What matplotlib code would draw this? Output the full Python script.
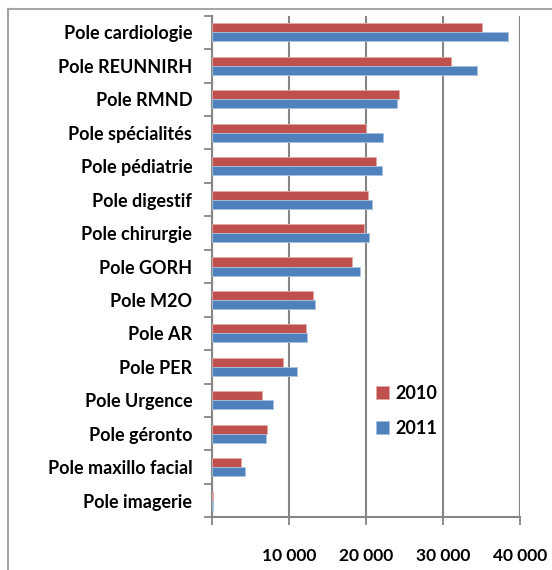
import numpy as np
import matplotlib.pyplot as plt
from matplotlib.lines import Line2D
from matplotlib.ticker import FuncFormatter

plt.rcParams['font.family'] = ['Lato', 'DejaVu Sans']

# données (de haut en bas)
poles = ['Pole cardiologie', 'Pole REUNNIRH', 'Pole RMND', 'Pole spécialités',
         'Pole pédiatrie', 'Pole digestif', 'Pole chirurgie', 'Pole GORH',
         'Pole M2O', 'Pole AR', 'Pole PER', 'Pole Urgence', 'Pole géronto',
         'Pole maxillo facial', 'Pole imagerie']
v2010 = [35100, 31000, 24300, 20000, 21300, 20300, 19700, 18150,
         13200, 12200, 9200, 6550, 7150, 3850, 130]
v2011 = [38500, 34400, 24050, 22250, 22150, 20850, 20400, 19300,
         13400, 12400, 11050, 8000, 7000, 4300, 130]
years = ['2010', '2011']
xticks = [10000, 20000, 30000, 40000]

red = '#C0504D'
blue = '#4F81BD'
grid = '#868686'

fig = plt.figure(figsize=(5.52, 5.70), dpi=100)
ax = fig.add_axes([211.7/552, 1-517.3/570, (520-211.7)/552, (517.3-15.7)/570])

y = np.arange(len(poles))
h = 0.27
ax.barh(y - h/2, v2010, height=h, color=red, edgecolor='#E3A9A7', linewidth=0.6, label=years[0], zorder=3)
ax.barh(y + h/2, v2011, height=h, color=blue, edgecolor='#A9C0DE', linewidth=0.6, label=years[1], zorder=3)

ax.set_ylim(len(poles) - 0.5, -0.5)
ax.set_xlim(0, 40000)

# ticks des catégories aux frontières, libellés au centre
ax.set_yticks(np.arange(len(poles) + 1) - 0.5)
ax.set_yticklabels([])
ax.set_yticks(y, minor=True)
ax.set_yticklabels(poles, minor=True, fontsize=13, fontweight='bold')
ax.tick_params(axis='y', which='major', length=6, width=1.3, color=grid, direction='out')
ax.tick_params(axis='y', which='minor', length=0, pad=14)

ax.set_xticks([0] + xticks)
ax.xaxis.set_major_formatter(FuncFormatter(lambda v, p: '' if v == 0 else '{:,.0f}'.format(v).replace(',', ' ')))
ax.tick_params(axis='x', length=6, width=1.3, color=grid, direction='out', labelsize=12.5, pad=16)
for lab in ax.get_xticklabels():
    lab.set_fontweight('bold')

ax.grid(axis='x', color=grid, linewidth=1.5, zorder=0)
for s in ['top', 'right']:
    ax.spines[s].set_visible(False)
for s in ['left', 'bottom']:
    ax.spines[s].set_color(grid)
    ax.spines[s].set_linewidth(1.5)

leg = ax.legend(loc='upper left', bbox_to_anchor=(376/552, 1-385/570), bbox_transform=fig.transFigure,
                frameon=False, borderpad=0, borderaxespad=0, handlelength=0.7, handleheight=0.7,
                handletextpad=0.35, labelspacing=1.0, prop={'size': 13, 'weight': 'bold'})

# cadre extérieur du graphique
fig.add_artist(Line2D([8/552, 1], [1-9/570, 1-9/570], color='#A6A6A6', linewidth=1.5))
fig.add_artist(Line2D([8/552, 8/552], [0, 1-9/570], color='#A6A6A6', linewidth=1.5))

fig.savefig('out.png', dpi=100)
